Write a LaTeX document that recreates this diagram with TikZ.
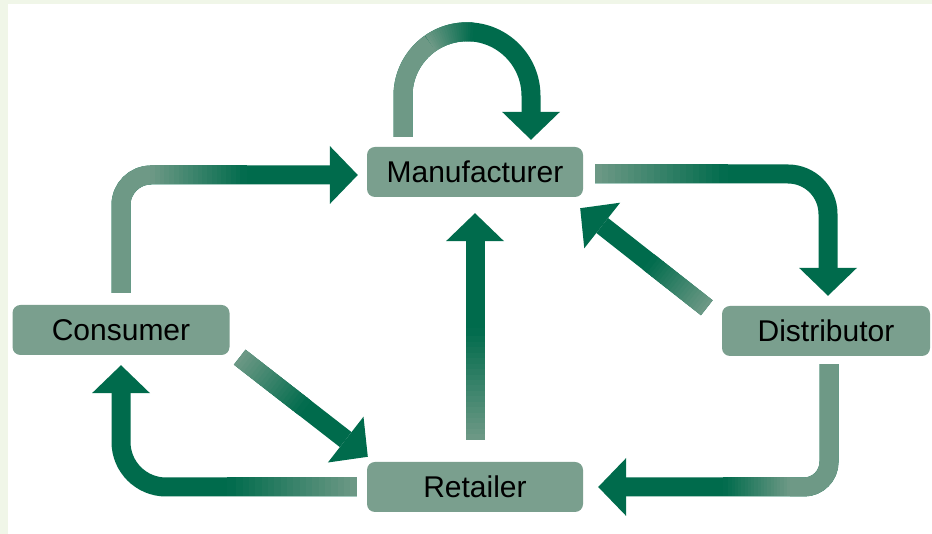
\documentclass[tikz,border=0pt]{standalone}
\usepackage{fontspec}
\setmainfont{Liberation Sans}
\usepackage{xcolor}
\usetikzlibrary{calc}
\usetikzlibrary{arrows.meta}
\definecolor{dgreen}{HTML}{006B4C}
\definecolor{lgreen}{HTML}{6E9986}
\definecolor{boxfill}{HTML}{7A9F8E}
\definecolor{bgstrip}{HTML}{F0F6E8}
\tikzset{
  box/.style = {fill=boxfill, rounded corners=8pt, minimum width=216pt,
    minimum height=50pt, inner sep=0pt, font=\fontsize{30pt}{36pt}\selectfont}
}
\tikzset{
  shaft/.style = {line width=19pt, draw=dgreen},
  flow/.style = {shaft, -{Triangle[width=58pt 0 0, length=28pt 0 0, line width=0pt 0 0]}}
}
% light-to-dark part of a straight shaft
\newcommand{\fadeline}[2]{%
  \foreach \i [evaluate=\i as \p using int(5*\i+2)] in {0,...,19}
    \draw[shaft, draw=dgreen!\p!lgreen] ($(#1)!\i/20!(#2)$) -- ($(#1)!\i/20+0.075!(#2)$);}

\begin{document}
\begin{tikzpicture}[x=1pt,y=1pt]
\useasboundingbox (0,0) rectangle (932,534);
\fill[bgstrip] (0,0) rectangle (932,534);
\fill[white] (8,0) rectangle (932,530);

% The four parties
\node[box] (man) at (475,362) {Manufacturer};
\node[box, minimum width=217pt] (con) at (121,204) {Consumer};
\node[box, minimum width=208pt] (dis) at (826,203) {Distributor};
\node[box] (ret) at (475,47) {Retailer};

% End points of the shafts
\coordinate (s1) at ([yshift=12pt]con.north);
\coordinate (e1) at ([xshift=-9pt,yshift=-3pt]man.west);
\coordinate (f1) at (150,359);
\coordinate (g1) at (245,359);
\coordinate (s2) at ([xshift=-72pt,yshift=10pt]man.north);
\coordinate (e2) at ([xshift=56pt,yshift=7pt]man.north);
\coordinate (loop) at ([xshift=-8pt,yshift=51pt]man.north);
\coordinate (s3) at ([xshift=12pt,yshift=-2pt]man.east);
\coordinate (g3) at (725,360);
\coordinate (e3) at ([xshift=2pt,yshift=10pt]dis.north);
\coordinate (s4) at ([xshift=-15pt,yshift=-2pt]dis.north west);
\coordinate (e4) at ([xshift=-3pt,yshift=-11pt]man.south east);
\coordinate (s5) at ([xshift=3pt,yshift=-8pt]dis.south);
\coordinate (f5) at (790,47);
\coordinate (g5) at (725,47);
\coordinate (e5) at ([xshift=15pt]ret.east);
\coordinate (s6) at ([yshift=22pt]ret.north);
\coordinate (e6) at ([yshift=-16pt]man.south);
\coordinate (s7) at ([xshift=10pt,yshift=-2pt]con.south east);
\coordinate (e7) at ([xshift=1pt,yshift=5pt]ret.north west);
\coordinate (s8) at ([xshift=-10pt]ret.west);
\coordinate (g8) at (230,47);
\coordinate (e8) at ([yshift=-10pt]con.south);

% Consumer -> Manufacturer
\draw[flow, rounded corners=30pt] (s1) |- (e1);
\draw[shaft, draw=lgreen, rounded corners=30pt] (s1) |- (f1);
\fadeline{f1}{g1}

% Manufacturer -> Manufacturer
\draw[flow] (s2) -- ++(0,41) arc[start angle=180, end angle=0, radius=64] -- (e2);
\draw[shaft, draw=lgreen] (s2) -- ++(0,41) arc[start angle=180, end angle=125, radius=64];
\foreach \i [evaluate=\i as \p using int(5*\i+2)] in {0,...,19}
  \draw[shaft, draw=dgreen!\p!lgreen] ($(loop)+({125-2*\i}:64)$)
    arc[start angle={125-2*\i}, end angle={122.5-2*\i}, radius=64];

% Manufacturer -> Distributor
\draw[flow, rounded corners=40pt] (s3) -| (e3);
\fadeline{s3}{g3}

% Distributor -> Manufacturer
\draw[flow] (s4) -- (e4);
\fadeline{s4}{$(s4)!0.45!(e4)$}

% Distributor -> Retailer
\draw[flow, rounded corners=25pt] (s5) |- (e5);
\draw[shaft, draw=lgreen, rounded corners=25pt] (s5) |- (f5);
\fadeline{f5}{g5}

% Retailer -> Manufacturer
\draw[flow] (s6) -- (e6);
\fadeline{s6}{$(s6)!0.48!(e6)$}

% Consumer -> Retailer
\draw[flow] (s7) -- (e7);
\fadeline{s7}{$(s7)!0.5!(e7)$}

% Retailer -> Consumer
\draw[flow, rounded corners=45pt] (s8) -| (e8);
\fadeline{s8}{g8}
\end{tikzpicture}
\end{document}
